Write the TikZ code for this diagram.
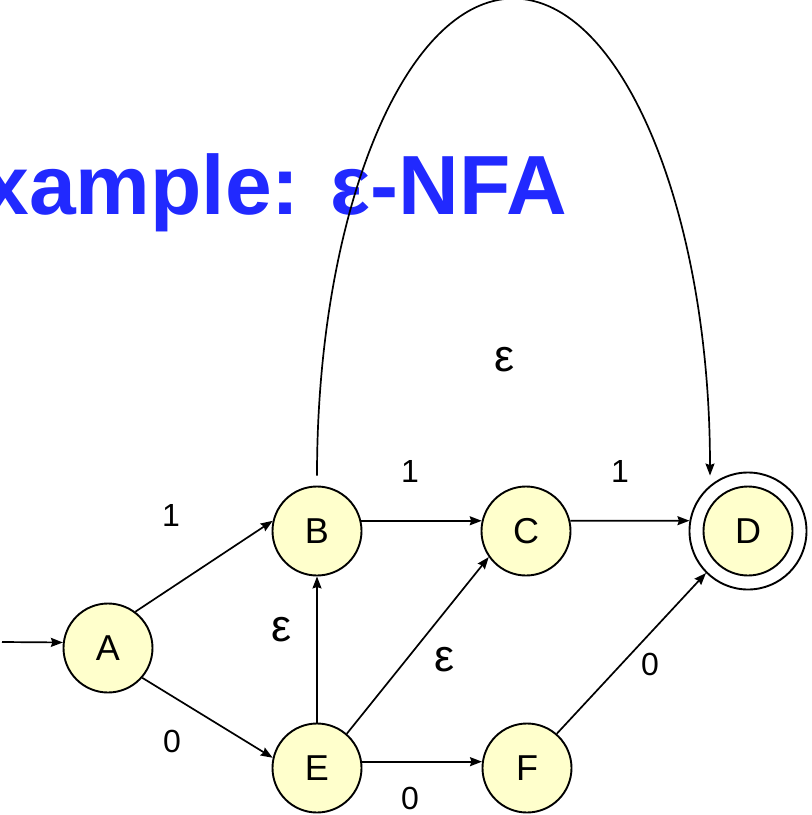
\documentclass[tikz,border=0pt]{standalone}
\usepackage{fontspec}
\setmainfont{Liberation Sans}
\usetikzlibrary{arrows.meta,calc}
\definecolor{titleblue}{RGB}{33,41,255}
\definecolor{statefill}{RGB}{255,255,204}
\begin{document}
\begin{tikzpicture}[x=1pt,y=-1pt,
  state/.style={circle,draw,line width=1.9pt,fill=statefill,minimum size=89pt,inner sep=0pt,font=\fontsize{36}{36}\selectfont},
  ring/.style={circle,draw,line width=1.9pt,minimum size=117pt,inner sep=0pt},
  trans/.style={line width=1.7pt,-{Stealth[length=12pt,width=9pt,inset=1.5pt]}},
  sym/.style={inner sep=0pt,font=\fontsize{32}{32}\selectfont},
  eps/.style={inner sep=0pt,font=\fontsize{45}{45}\selectfont}]
\useasboundingbox (0,0) rectangle (812,815);

% heading
\node[anchor=base east,inner sep=0pt,text=titleblue,
      font=\fontsize{84}{84}\selectfont\bfseries] (title) at (567,214) {xample: ε-NFA};

% states
\node[state] (A) at (108,648) {A};
\node[state] (B) at (317,531) {B};
\node[state] (C) at (526,531) {C};
\node[ring]  (Dout) at (748,531) {};
\node[state] (D) at (748,531) {D};
\node[state] (E) at (317,768) {E};
\node[state] (F) at (527,768) {F};

% start arrow
\coordinate (init) at (2,642);
\draw[trans] (init) -- (A.173);

% transitions
\draw[trans] (A.53) -- (B.167);
\draw[trans] (A.-41) -- (E.167);
\draw[trans] (B.13) -- (C.167);
\draw[trans] (C.13) -- (Dout.170);
\draw[trans] (E.90) -- (B.270);
\draw[trans] (E.49) -- (C.215);
\draw[trans] (E.8) -- (F.172);
\draw[trans] (F.49) -- (Dout.225);

% epsilon loop over the top from B to D
\coordinate (Bup) at ($(B.north)+(0,-10)$);
\draw[trans] (Bup) arc[start angle=180,end angle=360,x radius=196.5,y radius=477];

% transition labels
\node[sym] (lAB) at (171,515) {1};
\node[sym] (lAE) at (172,741) {0};
\node[sym] (lBC) at (410,471) {1};
\node[sym] (lCD) at (620,471) {1};
\node[sym] (lEF) at (410,798) {0};
\node[sym] (lFD) at (650,664) {0};
\node[eps] (lEB) at (282,630) {ε};
\node[eps] (lEC) at (445,660) {ε};
\node[eps] (lBD) at (505,360) {ε};
\end{tikzpicture}
\end{document}
